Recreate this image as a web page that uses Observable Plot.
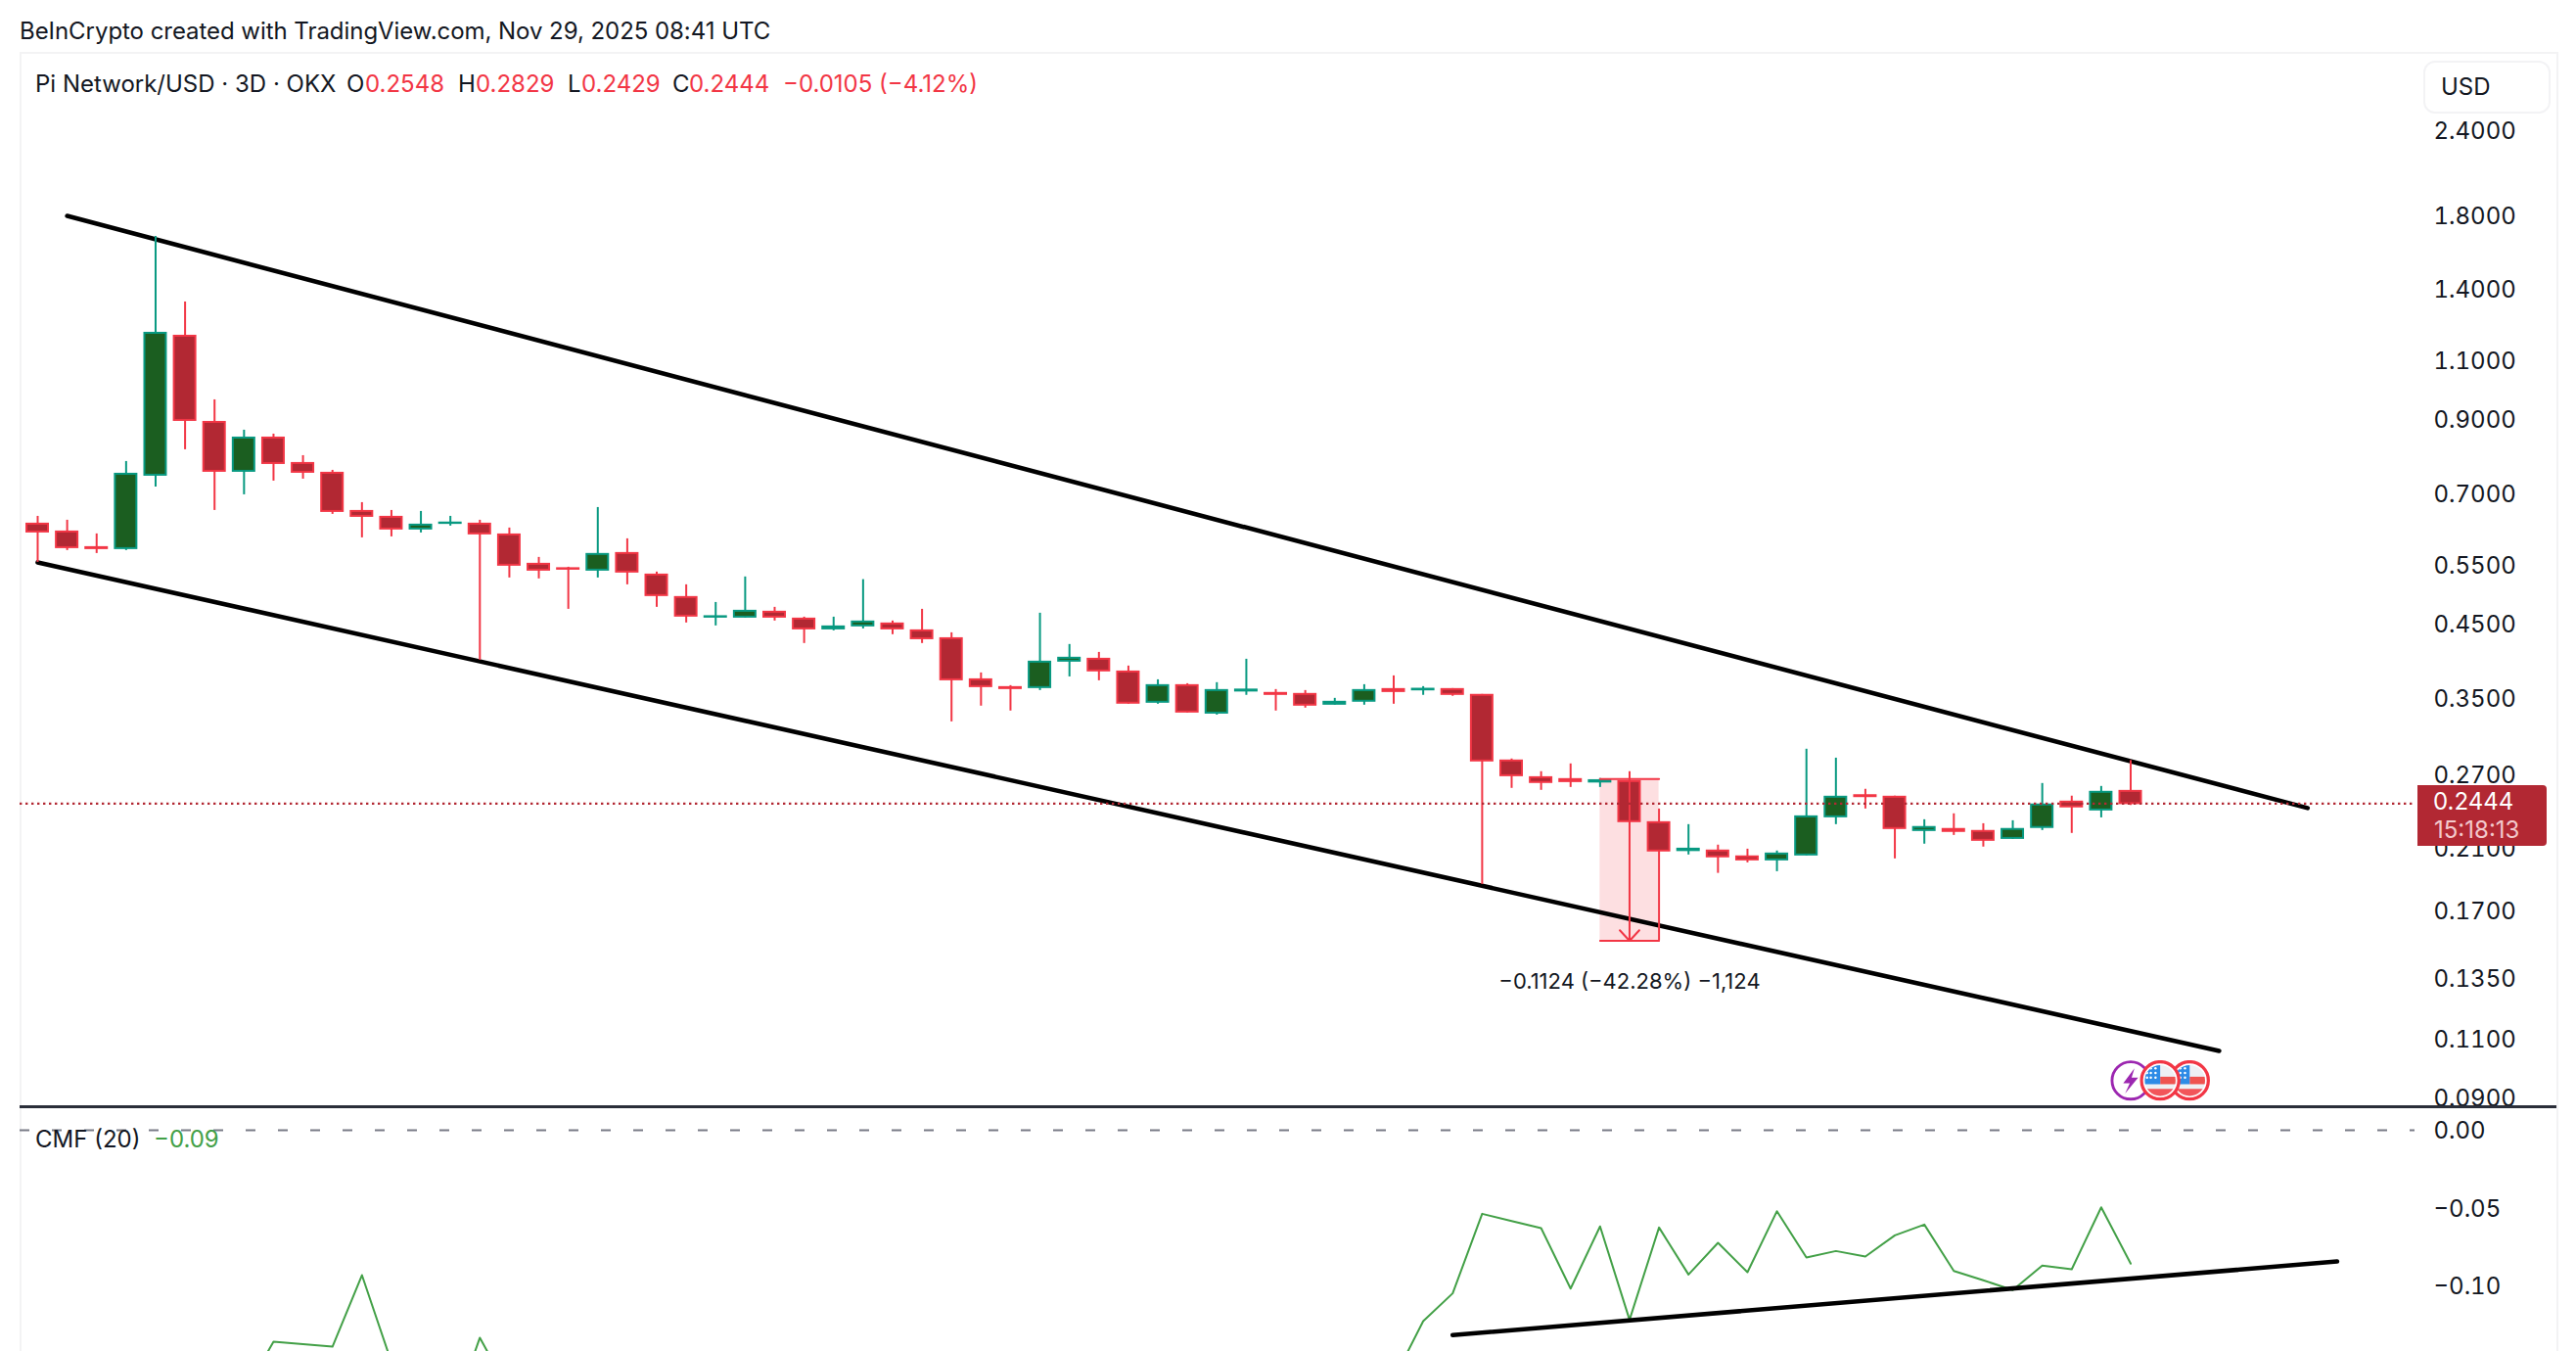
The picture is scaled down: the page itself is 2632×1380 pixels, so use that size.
<!DOCTYPE html>
<html><head><meta charset="utf-8">
<script src="https://cdn.jsdelivr.net/npm/d3@7"></script>
<script src="https://cdn.jsdelivr.net/npm/@observablehq/plot@0.6"></script>
<style>
html,body{margin:0;padding:0;background:#fff;overflow:hidden}
#page{position:relative;width:2632px;height:1380px;overflow:hidden;font-family:Inter,sans-serif;color:#131722;background:#fff}
#page>div{position:absolute}
.plotbox{left:0}
.plotbox svg{background:transparent;display:block;max-width:none}
.t{position:absolute;font-size:24px;line-height:30px;white-space:nowrap}
.r{color:#f23645}
</style></head><body>
<div id="page">
  <div id="frame" style="left:20px;top:53px;width:2590px;height:1340px;border:2px solid #f3f3f4"></div>
  <div id="pricePane" class="plotbox" style="top:52px"></div>
  <div id="paneLine" style="left:20px;top:1129px;width:2592px;height:2.5px;background:#2a2e39"></div>
  <div id="cmfPane" class="plotbox" style="top:1130px"></div>
  <div id="head" style="left:0;top:0;width:100%">
    <span class="t" style="left:20px;top:17px;letter-spacing:-.05px">BeInCrypto created with TradingView.com, Nov 29, 2025 08:41 UTC</span>
    <span class="t" style="left:36px;top:71px">Pi Network/USD · 3D · OKX</span>
    <span class="t" style="left:354px;top:71px">O</span><span class="t r" style="left:373px;top:71px">0.2548</span>
    <span class="t" style="left:468px;top:71px">H</span><span class="t r" style="left:486px;top:71px">0.2829</span>
    <span class="t" style="left:580px;top:71px">L</span><span class="t r" style="left:594px;top:71px">0.2429</span>
    <span class="t" style="left:687px;top:71px">C</span><span class="t r" style="left:704px;top:71px">0.2444</span>
    <span class="t r" style="left:800px;top:71px">−0.0105 (−4.12%)</span>
    <span class="t" style="left:36px;top:1149px">CMF (20)</span>
    <span class="t" style="left:157px;top:1149px;color:#43a047">−0.09</span>
  </div>
  <div id="usd" style="left:2476px;top:62px;width:126px;height:50px;border:2px solid #f3f3f5;border-radius:12px;background:#fff">
    <span class="t" style="left:16px;top:10px">USD</span>
  </div>
  <div id="priceTag" style="left:2470px;width:132px;height:62px;background:#b22833;border-radius:0 4px 4px 0;color:#fff">
    <span class="t" style="left:16px;top:2px">0.2444</span>
    <span class="t" style="left:17px;top:31px;color:#f3c9cc">15:18:13</span>
  </div>
</div>
<script>
// ---- OHLC values, 3D candles, oldest first ----
const opens = [.6312,.6146,.5828,.5809,.7452,1.1945,.8916,.7552,.8454,.7755,.7502,.6590,.6460,.6208,.6328,.6312,.6085,.5508,.5426,.5399,.5713,.5310,.4920,.4603,.4603,.4681,.4573,.4423,.4468,.4498,.4394,.4278,.3721,.3624,.3624,.3964,.3990,.3821,.3448,.3648,.3323,.3582,.3553,.3541,.3425,.3460,.3600,.3596,.3600,.3530,.2825,.2669,.2652,.2630,.2634,.2291,.2084,.2081,.2040,.2019,.2053,.2337,.2511,.2498,.2231,.2239,.2224,.2172,.2254,.2457,.2392,.2548];
const highs = [.6481,.6396,.6106,.7807,1.6764,1.3418,.9625,.8683,.8568,.7964,.7577,.6790,.6612,.6590,.6481,.6396,.6229,.5638,.5453,.6678,.6005,.5364,.5137,.4838,.5276,.4759,.4603,.4603,.5228,.4543,.4727,.4365,.3809,.3648,.4665,.4195,.4084,.3899,.3721,.3672,.3685,.3990,.3600,.3588,.3494,.3660,.3771,.3636,.3612,.3541,.2844,.2724,.2797,.2662,.2724,.2400,.2276,.2123,.2094,.2081,.2940,.2852,.2566,.2507,.2314,.2361,.2283,.2306,.2617,.2507,.2591,.2829];
const lows = [.5544,.5771,.5713,.5771,.7161,.8125,.6612,.6973,.7305,.7354,.6525,.6025,.6045,.6126,.6270,.3977,.5258,.5241,.4727,.5258,.5137,.4759,.4513,.4468,.4588,.4543,.4209,.4394,.4423,.4337,.4209,.3226,.3403,.3347,.3588,.3758,.3709,.3425,.3425,.3323,.3301,.3530,.3347,.3380,.3414,.3414,.3425,.3530,.3518,.1858,.2574,.2557,.2582,.2582,.2280,.1534,.2053,.1929,.1999,.1940,.2047,.2276,.2400,.2026,.2130,.2194,.2109,.2165,.2231,.2209,.2329,.2429];
const closes = [.6146,.5828,.5809,.7477,1.2065,.8976,.7552,.8454,.7755,.7527,.6590,.6481,.6208,.6291,.6336,.6106,.5490,.5399,.5417,.5695,.5364,.4953,.4619,.4610,.4696,.4603,.4423,.4453,.4528,.4423,.4278,.3721,.3636,.3612,.3951,.4004,.3835,.3437,.3648,.3335,.3588,.3594,.3541,.3414,.3448,.3588,.3576,.3604,.3541,.2825,.2687,.2626,.2634,.2642,.2299,.2081,.2094,.2040,.2019,.2060,.2337,.2498,.2503,.2246,.2254,.2224,.2158,.2239,.2433,.2417,.2540,.2444];
const priceTicks = [2.4,1.8,1.4,1.1,.9,.7,.55,.45,.35,.27,.21,.17,.135,.11,.09];
const lastClose = 0.2444;

// ---- trend lines (candle index, price) ----
const channelTopIdx = [1,77],  channelTopVal = [1.797,.2408];
const channelLowIdx = [0,74],  channelLowVal = [.5544,.1056];

// ---- price-range measurement ----
const measureIdx = [53,55], measureVal = [.2658,.1534], measureLabel = "−0.1124 (−42.28%) −1,124";

// ---- Chaikin money flow, visible runs only ----
const cmfRunAStart = 7;
const cmfRunA = [-.1692,-.1358,-.1374,-.1390,-.0931,-.149,-.178,-.187,-.1333,-.168];
const cmfRunBStart = 46;
const cmfRunB = [-.160,-.1226,-.1048,-.0537,-.0583,-.0629,-.1017,-.0618,-.1218,-.0625,-.0927,-.0723,-.0912,-.0520,-.0818,-.0776,-.0811,-.0675,-.0606,-.0904,-.0964,-.1027,-.0870,-.0893,-.0495,-.0857];
const cmfTicks = [0,-.05,-.10];
const cmfTrendIdx = [48,78], cmfTrendVal = [-.1316,-.0843];

// ---- event markers ----
const eventIdx = [71,73,72], eventVal = .0955, eventKinds = ["bolt","flag","flag"];

const candles = opens.map((o,i)=>({i,o,h:highs[i],l:lows[i],c:closes[i],up:closes[i]>opens[i]}));
const up = candles.filter(d=>d.up), down = candles.filter(d=>!d.up);
const toPts = (xs,ys)=>xs.map((x,k)=>({x,y:ys[k]}));
const RED="#f23645", GREEN="#089981", REDF="#b22833", GREENF="#1b5e20";
const bodyHalf = 0.365;

const flagSvg = `<svg xmlns="http://www.w3.org/2000/svg" viewBox="0 0 44 44"><defs><clipPath id="c"><circle cx="22" cy="22" r="16.5"/></clipPath></defs><circle cx="22" cy="22" r="20" fill="#fff" stroke="#f23645" stroke-width="3.4"/><g clip-path="url(#c)"><rect width="44" height="44" fill="#eef0f4"/><rect x="22" y="18" width="22" height="8" fill="#ef5350"/><rect y="31" width="44" height="13" fill="#f2555a"/><rect x="4" y="3" width="18" height="23" fill="#2e8be6"/><g fill="#fff"><circle cx="12" cy="9" r="1.3"/><circle cx="17" cy="9" r="1.3"/><circle cx="12" cy="14" r="1.3"/><circle cx="17" cy="14" r="1.3"/><circle cx="12" cy="19" r="1.3"/><circle cx="17" cy="19" r="1.3"/><circle cx="8" cy="14" r="1.3"/><circle cx="8" cy="19" r="1.3"/></g></g></svg>`;
const boltSvg = `<svg xmlns="http://www.w3.org/2000/svg" viewBox="0 0 44 44"><circle cx="22" cy="22" r="20" fill="#fff" stroke="#9c27b0" stroke-width="3"/><path d="M26 9 L14 25 L21 25 L16 36 L30 19 L23 19 Z" fill="#9c27b0"/></svg>`;
const uri = s=>"data:image/svg+xml,"+encodeURIComponent(s);
const events = eventIdx.map((x,k)=>({x,y:eventVal,src:uri(eventKinds[k]==="bolt"?boltSvg:flagSvg)}));

const W = 2632, xLo = 38, step = 30.12, xMax = 77;
const xScale = {axis:null,type:"linear",domain:[0,xMax],range:[xLo,xLo+xMax*step]};

const pricePlot = Plot.plot({
  width:W,height:1078,marginLeft:20,marginRight:165,marginTop:0,marginBottom:0,
  style:{fontFamily:"Inter,sans-serif",background:"transparent",overflow:"visible"},
  x:xScale,
  y:{axis:null,type:"log",domain:[2.4,.09],range:[81,1069]},
  marks:[
    Plot.rect([{}],{x1:measureIdx[0],x2:measureIdx[1],y1:measureVal[0],y2:measureVal[1],fill:RED,fillOpacity:.16}),
    Plot.line(toPts(channelTopIdx,channelTopVal),{x:"x",y:"y",stroke:"#000",strokeWidth:4.6,strokeLinecap:"round"}),
    Plot.line(toPts(channelLowIdx,channelLowVal),{x:"x",y:"y",stroke:"#000",strokeWidth:4.6,strokeLinecap:"round"}),
    Plot.ruleX(up,{x:"i",y1:"l",y2:"h",stroke:GREEN,strokeWidth:2}),
    Plot.ruleX(down,{x:"i",y1:"l",y2:"h",stroke:RED,strokeWidth:2}),
    Plot.rect(up,{x1:d=>d.i-bodyHalf,x2:d=>d.i+bodyHalf,y1:"o",y2:"c",fill:GREENF,stroke:GREEN,strokeWidth:2}),
    Plot.rect(down,{x1:d=>d.i-bodyHalf,x2:d=>d.i+bodyHalf,y1:"o",y2:"c",fill:REDF,stroke:RED,strokeWidth:2}),
    Plot.line([{x:measureIdx[0],y:measureVal[0]},{x:measureIdx[1],y:measureVal[0]}],{x:"x",y:"y",stroke:RED,strokeWidth:2}),
    Plot.line([{x:measureIdx[0],y:measureVal[1]},{x:measureIdx[1],y:measureVal[1]}],{x:"x",y:"y",stroke:RED,strokeWidth:2}),
    Plot.line([{x:54,y:measureVal[0]},{x:54,y:measureVal[1]}],{x:"x",y:"y",stroke:RED,strokeWidth:2}),
    Plot.line([{x:53.67,y:.159},{x:54,y:measureVal[1]},{x:54.33,y:.159}],{x:"x",y:"y",stroke:RED,strokeWidth:2}),
    Plot.ruleY([lastClose],{stroke:REDF,strokeWidth:2.4,strokeDasharray:"2.4 3.6"}),
    Plot.text([measureLabel],{x:54,y:.1342,dy:2,text:d=>d,fontSize:22,fill:"#131722"}),
    Plot.image(events,{x:"x",y:"y",src:"src",width:42,height:42}),
    Plot.axisY(priceTicks,{anchor:"right",label:null,tickSize:0,tickPadding:19,dy:1,fontSize:24,fill:"#131722",tickFormat:d=>d.toFixed(4)})
  ]
});
document.getElementById("pricePane").append(pricePlot);

const cmfTable = [...cmfRunA.map((y,k)=>({x:cmfRunAStart+k,y,run:"a"})),...cmfRunB.map((y,k)=>({x:cmfRunBStart+k,y,run:"b"}))];
const cmfPlot = Plot.plot({
  width:W,height:250,marginLeft:20,marginRight:165,marginTop:0,marginBottom:0,
  style:{fontFamily:"Inter,sans-serif",background:"transparent",overflow:"hidden"},
  x:xScale,
  y:{axis:null,type:"linear",domain:[0,-.1],range:[24,183]},
  marks:[
    Plot.ruleY([0],{stroke:"#787b86",strokeWidth:2,strokeDasharray:"10 23"}),
    Plot.line(cmfTable,{x:"x",y:"y",z:"run",stroke:"#43a047",strokeWidth:2}),
    Plot.line(toPts(cmfTrendIdx,cmfTrendVal),{x:"x",y:"y",stroke:"#000",strokeWidth:4.6,strokeLinecap:"round"}),
    Plot.axisY(cmfTicks,{anchor:"right",label:null,tickSize:0,tickPadding:19,dy:1,fontSize:24,fill:"#131722",tickFormat:d=>d.toFixed(2).replace("-","−")})
  ]
});
document.getElementById("cmfPane").append(cmfPlot);

// price tag follows the y scale
document.getElementById("priceTag").style.top = (52 + pricePlot.scale("y").apply(lastClose) - 18) + "px";
</script>
</body></html>
